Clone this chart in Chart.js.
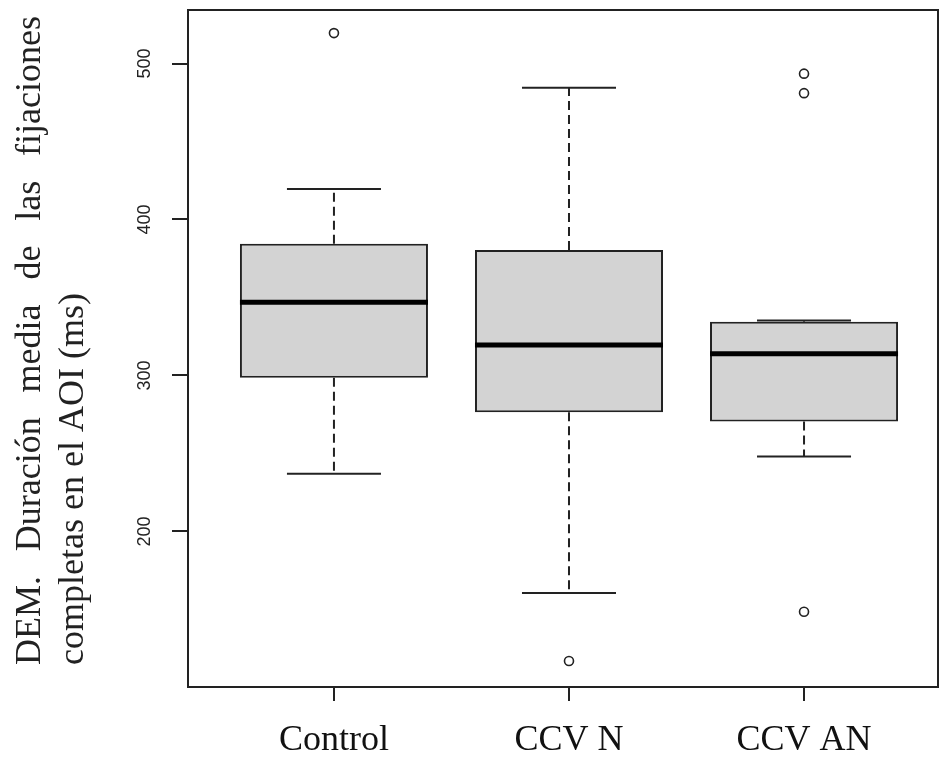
<!DOCTYPE html>
<html>
<head>
<meta charset="utf-8">
<script src="https://cdn.jsdelivr.net/npm/chart.js@4.4.1/dist/chart.umd.min.js"></script>
<style>
  html, body { margin: 0; background: #fff; }
  #wrap { width: 940px; height: 765px; position: relative; }
</style>
</head>
<body>
<div id="wrap"><canvas id="boxChart"></canvas></div>
<script>
// Resumen de cada grupo (bigotes, cuartiles, mediana) y valores atípicos
const groups      = ['Control', 'CCV N', 'CCV AN'];
const whiskerLow  = [237, 160.5, 248];
const quart1      = [298.5, 276.5, 270.5];
const medians     = [347, 319.5, 314];
const quart3      = [384.5, 380.5, 334.5];
const whiskerHigh = [419.5, 484.5, 335.2];
const outlierGroup = [1, 2, 3, 3, 3];
const outlierValue = [519.5, 117, 493.5, 481, 148.5];
const yTicks = [200, 300, 400, 500];
const titleLines = ['DEM. Duración media de las fijaciones', 'completas en el AOI (ms)'];

const INK = '#222';
const BOX_HALF = 0.4;
const CAP_HALF = 0.2;

// bigotes, medianas, marco, etiquetas del eje y y título
const boxExtras = {
  id: 'boxExtras',
  afterDatasetsDraw(chart) {
    const { ctx, scales: { x, y } } = chart;
    const seg = (x1, y1, x2, y2) => {
      ctx.beginPath(); ctx.moveTo(x1, y1); ctx.lineTo(x2, y2); ctx.stroke();
    };
    ctx.save();
    ctx.strokeStyle = INK;
    groups.forEach((g, i) => {
      const pos = i + 1;
      const cx = x.getPixelForValue(pos);
      // bigotes discontinuos
      ctx.lineWidth = 2;
      ctx.setLineDash([9, 5]);
      seg(cx, y.getPixelForValue(quart3[i]), cx, y.getPixelForValue(whiskerHigh[i]));
      seg(cx, y.getPixelForValue(quart1[i]), cx, y.getPixelForValue(whiskerLow[i]));
      ctx.setLineDash([]);
      // topes
      const l = x.getPixelForValue(pos - CAP_HALF), r = x.getPixelForValue(pos + CAP_HALF);
      seg(l, y.getPixelForValue(whiskerHigh[i]), r, y.getPixelForValue(whiskerHigh[i]));
      seg(l, y.getPixelForValue(whiskerLow[i]), r, y.getPixelForValue(whiskerLow[i]));
      // mediana
      ctx.lineWidth = 5;
      ctx.strokeStyle = '#000';
      seg(x.getPixelForValue(pos - BOX_HALF), y.getPixelForValue(medians[i]),
          x.getPixelForValue(pos + BOX_HALF), y.getPixelForValue(medians[i]));
      ctx.strokeStyle = INK;
    });
    ctx.restore();
  },
  afterDraw(chart) {
    const { ctx, chartArea: a, scales: { y } } = chart;
    ctx.save();
    // marco
    ctx.strokeStyle = INK;
    ctx.lineWidth = 2;
    ctx.strokeRect(a.left, a.top, a.right - a.left, a.bottom - a.top);

    // etiquetas del eje y, giradas
    ctx.fillStyle = INK;
    ctx.font = '18px "Liberation Sans"';
    ctx.textAlign = 'center';
    ctx.textBaseline = 'alphabetic';
    yTicks.forEach(v => {
      ctx.save();
      ctx.translate(150, y.getPixelForValue(v));
      ctx.rotate(-Math.PI / 2);
      ctx.fillText(String(v), 0, 0);
      ctx.restore();
    });

    // título del eje y: primera línea justificada, segunda alineada al inicio
    ctx.font = '36px "Liberation Serif"';
    ctx.textAlign = 'left';
    const start = 665, end = 16;
    const words = titleLines[0].split(' ');
    const widths = words.map(w => ctx.measureText(w).width);
    const used = widths.reduce((s, w) => s + w, 0);
    const gap = (start - end - used) / (words.length - 1);
    ctx.save();
    ctx.translate(40, start);
    ctx.rotate(-Math.PI / 2);
    let p = 0;
    words.forEach((w, k) => { ctx.fillText(w, p, 0); p += widths[k] + gap; });
    ctx.restore();
    ctx.save();
    ctx.translate(83, start);
    ctx.rotate(-Math.PI / 2);
    ctx.fillText(titleLines[1], 0, 0);
    ctx.restore();
    ctx.restore();
  }
};

new Chart(document.getElementById('boxChart'), {
  data: {
    datasets: [{
      type: 'bar',
      data: groups.map((g, i) => ({ x: i + 1, y: [quart1[i], quart3[i]] })),
      backgroundColor: '#d3d3d3',
      borderColor: INK,
      borderWidth: 2,
      borderSkipped: false,
      categoryPercentage: 0.8,
      barPercentage: 1
    }, {
      type: 'scatter',
      data: outlierGroup.map((g, k) => ({ x: g, y: outlierValue[k] })),
      pointRadius: 4.5,
      pointBorderWidth: 1.6,
      pointBackgroundColor: 'rgba(0,0,0,0)',
      pointBorderColor: INK
    }]
  },
  options: {
    responsive: true,
    maintainAspectRatio: false,
    animation: false,
    layout: { autoPadding: false, padding: { top: 10, right: 2, left: 0, bottom: 0 } },
    plugins: { legend: { display: false }, tooltip: { enabled: false } },
    scales: {
      x: {
        type: 'linear',
        offset: false,
        min: 0.379,
        max: 3.57,
        afterBuildTicks: s => { s.ticks = groups.map((g, i) => ({ value: i + 1 })); },
        afterFit: s => { s.height = 78; s.paddingLeft = 0; s.paddingRight = 0; },
        border: { display: false },
        grid: { offset: false, drawOnChartArea: false, tickLength: 14, color: INK, lineWidth: 2 },
        ticks: {
          callback: v => groups[v - 1],
          maxRotation: 0,
          padding: 18,
          color: '#111',
          font: { family: 'Liberation Serif', size: 36 }
        }
      },
      y: {
        min: 100.3,
        max: 534.3,
        afterBuildTicks: s => { s.ticks = yTicks.map(v => ({ value: v })); },
        afterFit: s => { s.width = 188; },
        border: { display: false },
        grid: { drawOnChartArea: false, tickLength: 16, color: INK, lineWidth: 2 },
        ticks: { display: false }
      }
    }
  },
  plugins: [boxExtras]
});
</script>
</body>
</html>
